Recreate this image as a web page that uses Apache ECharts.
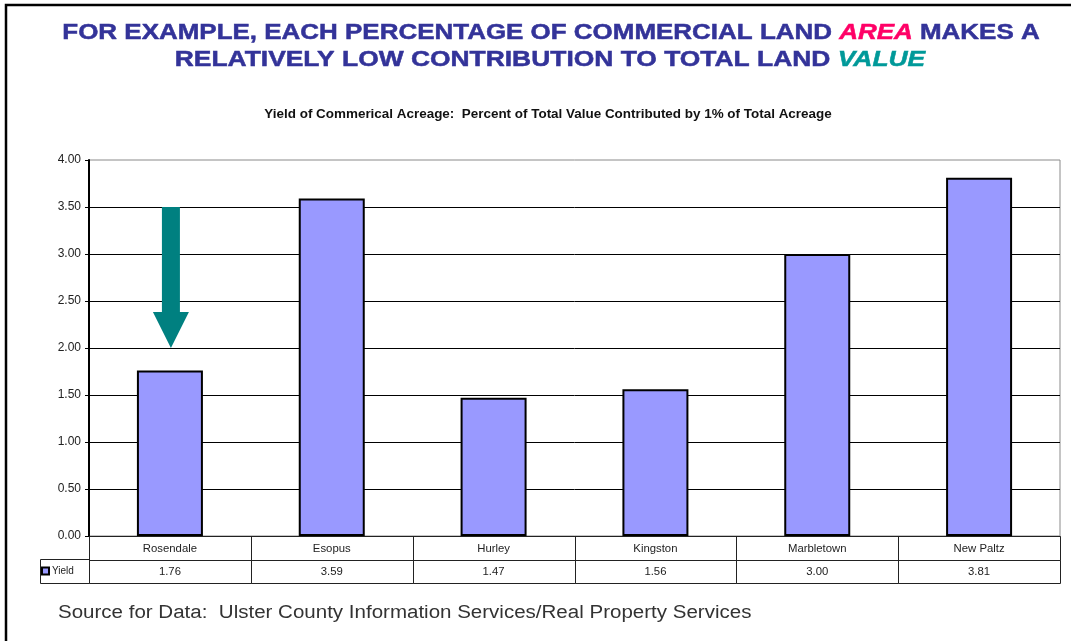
<!DOCTYPE html>
<html>
<head>
<meta charset="utf-8">
<script src="https://cdn.jsdelivr.net/npm/echarts@6/dist/echarts.min.js"></script>
<style>
html,body{margin:0;padding:0;background:#fff;}
#chart{width:1071px;height:641px;}
</style>
</head>
<body>
<div id="chart"></div>
<script>
// ---- data ----
const categories = ['Rosendale', 'Esopus', 'Hurley', 'Kingston', 'Marbletown', 'New Paltz'];
const yieldValues = [1.76, 3.59, 1.47, 1.56, 3.00, 3.81];
const yieldLabels = ['1.76', '3.59', '1.47', '1.56', '3.00', '3.81'];
const seriesName = 'Yield';
const yMin = 0, yMax = 4, yInterval = 0.5;
// arrow annotation: [category index, start value, end value]
const arrowData = [[0, 3.5, 2.0]];
const titleLine1 = 'FOR EXAMPLE, EACH PERCENTAGE OF COMMERCIAL LAND {area|AREA} MAKES A';
const titleLine2 = 'RELATIVELY LOW CONTRIBUTION TO TOTAL LAND {value|VALUE}';
const subtitleText = 'Yield of Commerical Acreage:  Percent of Total Value Contributed by 1% of Total Acreage';
const sourceText = 'Source for Data:  Ulster County Information Services/Real Property Services';

// ---- chart ----
const FONT = '"Liberation Sans", Arial, Helvetica, sans-serif';
const chart = echarts.init(document.getElementById('chart'), null, {renderer: 'canvas'});

const tableData = [];
categories.forEach((c, i) => { tableData.push([i, 0]); tableData.push([i, 1]); });

const titleRich = {
  area: {fontFamily: FONT, fontSize: 22, fontWeight: 'bold', fontStyle: 'italic', fill: '#FF0066', stroke: '#FF0066', lineWidth: 0.5},
  value: {fontFamily: FONT, fontSize: 22, fontWeight: 'bold', fontStyle: 'italic', fill: '#009999', stroke: '#009999', lineWidth: 0.5}
};

const option = {
  backgroundColor: '#ffffff',
  animation: false,
  textStyle: {fontFamily: FONT},
  legend: {
    data: [seriesName],
    left: 41, top: 566,
    icon: 'rect', itemWidth: 7, itemHeight: 7, itemGap: 4,
    padding: 0,
    textStyle: {fontSize: 10, color: '#222', fontFamily: FONT, padding: [0, 0, 0, -2]},
    selectedMode: false
  },
  grid: [
    {left: 89, right: 11, top: 160, height: 376, show: true, borderColor: '#8a8a8a', borderWidth: 1, backgroundColor: 'transparent'},
    {left: 89, right: 11, top: 536, height: 47}
  ],
  xAxis: [
    {
      type: 'category', gridIndex: 0, data: categories,
      axisLine: {show: true, lineStyle: {color: '#000', width: 1}},
      axisTick: {show: false}, axisLabel: {show: false}, splitLine: {show: false}
    },
    {type: 'category', gridIndex: 1, data: categories, show: false}
  ],
  yAxis: [
    {
      type: 'value', gridIndex: 0, min: yMin, max: yMax, interval: yInterval,
      axisLine: {show: true, lineStyle: {color: '#000', width: 2}},
      axisTick: {show: true, inside: false, length: 4, lineStyle: {color: '#000', width: 1}},
      axisLabel: {formatter: v => v.toFixed(2), fontSize: 12, color: '#222', margin: 8, fontFamily: FONT},
      splitLine: {show: true, showMaxLine: false, showMinLine: false, lineStyle: {color: '#000', width: 1}}
    },
    {type: 'category', gridIndex: 1, data: ['name', 'value'], inverse: true, show: false}
  ],
  series: [
    {
      name: seriesName, type: 'bar', xAxisIndex: 0, yAxisIndex: 0,
      data: yieldValues, barWidth: 66,
      itemStyle: {color: '#9999FF', borderColor: '#000', borderWidth: 2}
    },
    {
      type: 'custom', xAxisIndex: 0, yAxisIndex: 0, data: arrowData, z: 10,
      renderItem: function (params, api) {
        const i = api.value(0);
        const top = api.coord([i, api.value(1)]);
        const tip = api.coord([i, api.value(2)]);
        const x = tip[0] + 1, hw = 9, hh = 18, hl = 36;
        const pts = [
          [x - hw, top[1]], [x + hw, top[1]], [x + hw, tip[1] - hl],
          [x + hh, tip[1] - hl], [x, tip[1]], [x - hh, tip[1] - hl], [x - hw, tip[1] - hl]
        ];
        return {type: 'polygon', shape: {points: pts}, style: {fill: '#008080'}};
      }
    },
    {
      type: 'custom', xAxisIndex: 1, yAxisIndex: 1, data: tableData, z: 5,
      renderItem: function (params, api) {
        const i = api.value(0), r = api.value(1);
        const c = api.coord([i, r]);
        const s = api.size([1, 1]);
        const txt = r === 0 ? categories[i] : yieldLabels[i];
        const xl = Math.round(c[0] - s[0] / 2), xr = Math.round(c[0] + s[0] / 2);
        const yt = Math.round(c[1] - s[1] / 2), yb = Math.round(c[1] + s[1] / 2);
        return {
          type: 'group',
          children: [
            {type: 'rect', shape: {x: xl + 0.5, y: yt + 0.5, width: xr - xl, height: yb - yt},
             style: {fill: 'none', stroke: '#222', lineWidth: 1}},
            {type: 'text', x: c[0], y: c[1] + 1, scaleX: 1.08,
             style: {text: txt, align: 'center', verticalAlign: 'middle', fontSize: 10.5, fontFamily: FONT, fill: '#222'}}
          ]
        };
      }
    }
  ],
  graphic: [
    {type: 'polyline', shape: {points: [[6, 641], [6, 5], [1071, 5]]}, style: {stroke: '#000', lineWidth: 2.5, fill: 'none'}, z: 100},
    {type: 'text', x: 551, y: 33, scaleX: 1.18, style: {text: titleLine1, rich: titleRich, fontFamily: FONT, fontSize: 22, fontWeight: 'bold', fill: '#333399', stroke: '#333399', lineWidth: 0.5, align: 'center', verticalAlign: 'middle'}},
    {type: 'text', x: 550, y: 60, scaleX: 1.2, style: {text: titleLine2, rich: titleRich, fontFamily: FONT, fontSize: 22, fontWeight: 'bold', fill: '#333399', stroke: '#333399', lineWidth: 0.5, align: 'center', verticalAlign: 'middle'}},
    {type: 'text', x: 548, y: 115, scaleX: 1.12, style: {text: subtitleText, fontFamily: FONT, fontSize: 12, fontWeight: 'bold', fill: '#111', align: 'center', verticalAlign: 'middle'}},
    {type: 'rect', shape: {x: 40.5, y: 559.5, width: 49, height: 24}, style: {fill: 'none', stroke: '#222', lineWidth: 1}},
    {type: 'text', x: 58, y: 613, scaleX: 1.14, style: {text: sourceText, fontFamily: FONT, fontSize: 18, fill: '#333', align: 'left', verticalAlign: 'middle'}}
  ]
};
chart.setOption(option);
</script>
</body>
</html>
